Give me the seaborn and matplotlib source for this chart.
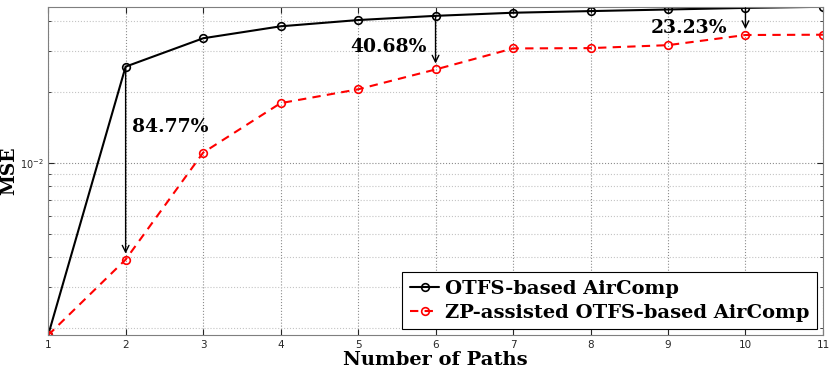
import numpy as np
import pandas as pd
import seaborn as sns
import matplotlib.pyplot as plt
import matplotlib.ticker as ticker

paths = [1, 2, 3, 4, 5, 6, 7, 8, 9, 10, 11]
mse_otfs = [1.87e-3, 2.57e-2, 3.39e-2, 3.81e-2, 4.05e-2, 4.22e-2,
            4.35e-2, 4.42e-2, 4.49e-2, 4.56e-2, 4.61e-2]
mse_zp = [1.87e-3, 3.91e-3, 1.11e-2, 1.80e-2, 2.06e-2, 2.50e-2,
          3.07e-2, 3.08e-2, 3.17e-2, 3.50e-2, 3.51e-2]
series_names = ['OTFS-based AirComp', 'ZP-assisted OTFS-based AirComp']
gain_at = [2, 6, 10]
gain_text = ['84.77%', '40.68%', '23.23%']
gain_text_pos = [(2.085, 1.43e-2), (4.90, 3.12e-2), (8.78, 3.75e-2)]

sns.set_style('ticks')
plt.rcParams['text.color'] = 'black'
plt.rcParams['axes.labelcolor'] = 'black'
serif_bold = dict(family='DejaVu Serif', weight='bold')
axis_grey = '#262626'

fig = plt.figure(figsize=(8.3, 3.77), dpi=100)
ax = fig.add_axes([0.058, 0.111, 0.9335, 0.871])

df = pd.DataFrame({'paths': paths * 2,
                   'mse': mse_otfs + mse_zp,
                   'scheme': [series_names[0]] * len(paths) + [series_names[1]] * len(paths)})
sns.lineplot(data=df[df.scheme == series_names[0]], x='paths', y='mse', ax=ax,
             color='black', lw=1.5, marker='o', markersize=5.5, markerfacecolor='none',
             markeredgecolor='black', markeredgewidth=1.2, label=series_names[0])
sns.lineplot(data=df[df.scheme == series_names[1]], x='paths', y='mse', ax=ax,
             color='red', lw=1.5, ls=(0, (4, 3)), marker='o', markersize=5.5,
             markerfacecolor='none', markeredgecolor='red', markeredgewidth=1.2,
             label=series_names[1])

ax.set_yscale('log')
ax.set_xlim(1, 11)
ax.set_ylim(min(mse_zp), max(mse_otfs))
ax.xaxis.set_major_locator(ticker.MultipleLocator(1))
ax.yaxis.set_major_locator(ticker.LogLocator(base=10))
ax.yaxis.set_minor_locator(ticker.LogLocator(base=10, subs=np.arange(2, 10)))
ax.yaxis.set_minor_formatter(ticker.NullFormatter())

ax.grid(True, which='major', ls=':', color='#8c8c8c', lw=0.8)
ax.grid(True, which='minor', axis='y', ls=':', color='#c4c4c4', lw=0.8)
ax.tick_params(which='both', direction='in', top=True, right=True, color=axis_grey,
               labelsize=7.5, labelcolor=axis_grey)
ax.tick_params(axis='y', labelsize=7)
ax.tick_params(which='major', length=4)
ax.tick_params(which='minor', length=2)
for s in ax.spines.values():
    s.set_color('#7f7f7f')
    s.set_linewidth(0.8)

# reduction arrows
for xv, txt, tpos in zip(gain_at, gain_text, gain_text_pos):
    i = paths.index(xv)
    ax.annotate('', xy=(xv, mse_zp[i] * 1.06), xytext=(xv, mse_otfs[i]),
                arrowprops=dict(arrowstyle='->', color='black', lw=1.0,
                                shrinkA=0, shrinkB=0, mutation_scale=12))
    ax.text(tpos[0], tpos[1], txt, fontsize=13.5, ha='left', va='center', **serif_bold)

ax.set_xlabel('Number of Paths', fontsize=14, labelpad=1, **serif_bold)
ax.set_ylabel('MSE', fontsize=13.5, **serif_bold)
ax.yaxis.set_label_coords(-0.039, 0.5)

leg = ax.legend(loc='lower right', prop=dict(family='DejaVu Serif', weight='bold', size=14),
                frameon=True, fancybox=False, edgecolor='black', framealpha=1,
                handlelength=1.5, handletextpad=0.3, borderpad=0.4,
                labelspacing=0.3, borderaxespad=0.3)
leg.get_frame().set_linewidth(0.8)

fig.savefig('out.png', dpi=100)
